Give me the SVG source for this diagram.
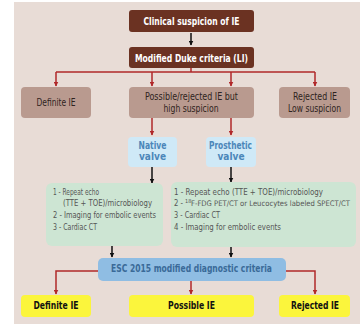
<svg xmlns="http://www.w3.org/2000/svg" width="360" height="324" viewBox="0 0 360 324">
<defs>
<marker id="ar" viewBox="0 0 10 10" refX="9" refY="5" markerWidth="5" markerHeight="5" orient="auto" markerUnits="userSpaceOnUse"><path d="M0,0 L10,5 L0,10 z" fill="#b0282a"/></marker>
<marker id="ab" viewBox="0 0 10 10" refX="9" refY="5" markerWidth="5" markerHeight="5" orient="auto" markerUnits="userSpaceOnUse"><path d="M0,0 L10,5 L0,10 z" fill="#111"/></marker>
<style>
text{font-family:"DejaVu Sans Condensed","DejaVu Sans","Liberation Sans",sans-serif;font-stretch:condensed;}
.dk{fill:#6b3222;}
.tan{fill:#b99a8f;}
.lb{fill:#cfe9f7;}
.gr{fill:#cde5d3;}
.yl{fill:#fbf53c;}
.wt{fill:#fff;font-size:10.5px;font-weight:bold;text-anchor:middle;}
.tt{fill:#2e2320;font-size:10px;text-anchor:middle;}
.bt{fill:#4b86b9;font-size:10px;font-weight:bold;text-anchor:middle;}
.gt{fill:#555;font-size:8.4px;}
.et{fill:#3a6a98;font-size:10.5px;font-weight:bold;text-anchor:middle;}
.yt{fill:#111;font-size:10.5px;font-weight:bold;text-anchor:middle;}
.rl{stroke:#b0282a;stroke-width:1.5;fill:none;}
.bl{stroke:#111;stroke-width:1.5;fill:none;}
</style>
</defs>
<rect x="14" y="2" width="346" height="322" fill="#e8dcd6"/>
<g id="connectors">
<path class="bl" d="M191,33 V45" marker-end="url(#ab)"/>
<path class="rl" d="M191,68 V72 M56,72 H315"/>
<path class="rl" d="M56,72 V86" marker-end="url(#ar)"/>
<path class="rl" d="M152,72 V86" marker-end="url(#ar)"/>
<path class="rl" d="M231,72 V86" marker-end="url(#ar)"/>
<path class="rl" d="M315,72 V86" marker-end="url(#ar)"/>
<path class="rl" d="M152,118 V135" marker-end="url(#ar)"/>
<path class="rl" d="M231,118 V135" marker-end="url(#ar)"/>
<path class="bl" d="M152,167 V183" marker-end="url(#ab)"/>
<path class="bl" d="M231,167 V182" marker-end="url(#ab)"/>
<path class="bl" d="M112,246 V257" marker-end="url(#ab)"/>
<path class="bl" d="M231,247 V257" marker-end="url(#ab)"/>
<path class="rl" d="M98,271 H56 V294" marker-end="url(#ar)"/>
<path class="rl" d="M191,281 V294" marker-end="url(#ar)"/>
<path class="rl" d="M286,271 H315 V294" marker-end="url(#ar)"/>
</g>
<g id="clinical"><rect class="dk" x="129" y="10" width="125" height="22" rx="3"/><text class="wt" x="191.5" y="25" textLength="96" lengthAdjust="spacingAndGlyphs">Clinical suspicion of IE</text></g>
<g id="duke"><rect class="dk" x="129" y="47" width="125" height="21" rx="3"/><text class="wt" x="191.5" y="61.5" textLength="113" lengthAdjust="spacingAndGlyphs">Modified Duke criteria (LI)</text></g>
<g id="definite1"><rect class="tan" x="21" y="87" width="70" height="31" rx="4"/><text class="tt" x="56" y="105.5" textLength="39" lengthAdjust="spacingAndGlyphs">Definite IE</text></g>
<g id="possible1"><rect class="tan" x="129" y="87" width="125" height="31" rx="4"/><text class="tt" x="191.5" y="99.5" textLength="93" lengthAdjust="spacingAndGlyphs">Possible/rejected IE but</text><text class="tt" x="191" y="111.5" textLength="55" lengthAdjust="spacingAndGlyphs">high suspicion</text></g>
<g id="rejected1"><rect class="tan" x="279" y="87" width="71" height="31" rx="4"/><text class="tt" x="315" y="99.5" textLength="44" lengthAdjust="spacingAndGlyphs">Rejected IE</text><text class="tt" x="314.5" y="111.5" textLength="53" lengthAdjust="spacingAndGlyphs">Low suspicion</text></g>
<g id="native"><rect class="lb" x="128" y="137" width="49" height="30" rx="4"/><text class="bt" x="152.5" y="149" textLength="28" lengthAdjust="spacingAndGlyphs">Native</text><text class="bt" x="152.5" y="160">valve</text></g>
<g id="prosthetic"><rect class="lb" x="206" y="137" width="50" height="30" rx="4"/><text class="bt" x="230.5" y="149" textLength="43" lengthAdjust="spacingAndGlyphs">Prosthetic</text><text class="bt" x="231" y="160">valve</text></g>
<g id="native-steps"><rect class="gr" x="46" y="183" width="117" height="63" rx="6"/>
<text class="gt" x="53" y="195" textLength="46" lengthAdjust="spacingAndGlyphs">1 - Repeat echo</text>
<text class="gt" x="63" y="206" textLength="89" lengthAdjust="spacingAndGlyphs">(TTE + TOE)/microbiology</text>
<text class="gt" x="53" y="218" textLength="103" lengthAdjust="spacingAndGlyphs">2 - Imaging for embolic events</text>
<text class="gt" x="53" y="230" textLength="44" lengthAdjust="spacingAndGlyphs">3 - Cardiac CT</text></g>
<g id="prosthetic-steps"><rect class="gr" x="171" y="182" width="185" height="65" rx="6"/>
<text class="gt" x="174" y="195" textLength="149" lengthAdjust="spacingAndGlyphs">1 - Repeat echo (TTE + TOE)/microbiology</text>
<text class="gt" x="174" y="206" textLength="9" lengthAdjust="spacingAndGlyphs">2 -</text>
<text class="gt" x="185" y="203" style="font-size:5.5px">18</text>
<text class="gt" x="191" y="206" style="font-size:7.6px" textLength="159" lengthAdjust="spacingAndGlyphs">F-FDG PET/CT or Leucocytes labeled SPECT/CT</text>
<text class="gt" x="174" y="218" textLength="46" lengthAdjust="spacingAndGlyphs">3 - Cardiac CT</text>
<text class="gt" x="174" y="230" textLength="107" lengthAdjust="spacingAndGlyphs">4 - Imaging for embolic events</text></g>
<g id="esc"><rect x="98" y="258" width="188" height="23" rx="5" fill="#8fbde3"/><text class="et" x="191.5" y="272" textLength="161" lengthAdjust="spacingAndGlyphs">ESC 2015 modified diagnostic criteria</text></g>
<g id="definite2"><rect class="yl" x="21" y="295" width="70" height="22" rx="4"/><text class="yt" x="56" y="309" textLength="45" lengthAdjust="spacingAndGlyphs">Definite IE</text></g>
<g id="possible2"><rect class="yl" x="129" y="295" width="125" height="22" rx="4"/><text class="yt" x="191.5" y="309" textLength="47" lengthAdjust="spacingAndGlyphs">Possible IE</text></g>
<g id="rejected2"><rect class="yl" x="279" y="295" width="71" height="22" rx="4"/><text class="yt" x="315" y="309" textLength="48" lengthAdjust="spacingAndGlyphs">Rejected IE</text></g>
</svg>
